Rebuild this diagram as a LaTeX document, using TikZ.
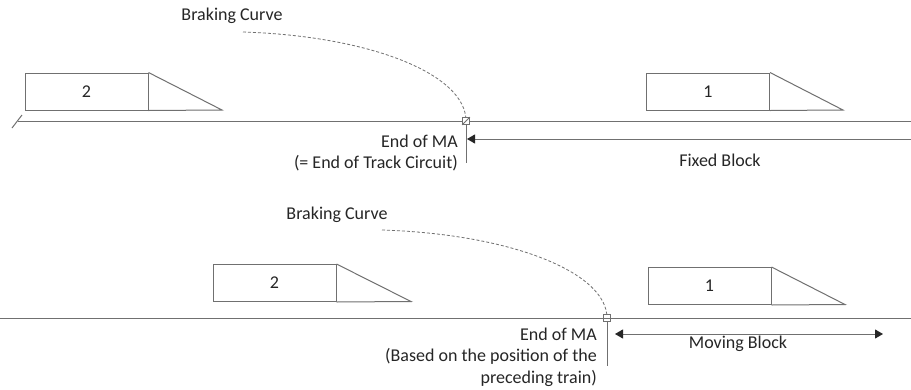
\documentclass[tikz,border=0pt]{standalone}
\usepackage{fontspec}
\setmainfont{Carlito}
\usetikzlibrary{arrows.meta}
\definecolor{ln}{HTML}{707070}
\definecolor{tx}{HTML}{262626}
\tikzset{
  line/.style={draw=ln, line width=1pt},
  trainbody/.style={draw=ln, line width=1pt, minimum width=123pt, minimum height=37pt, inner sep=0pt, text=tx, font=\fontsize{18}{21}\selectfont},
  lbl/.style={text=tx, font=\fontsize{18}{21}\selectfont, inner sep=0pt},
  brake/.style={draw=ln, line width=0.8pt, dash pattern=on 3pt off 2pt},
  marker/.style={draw=ln, line width=0.8pt, minimum size=7pt, inner sep=0pt, fill=white},
  tip/.style={-{Triangle[length=8pt,width=9pt,color=tx]}},
  dtip/.style={{Triangle[length=8pt,width=9pt,color=tx]}-{Triangle[length=8pt,width=9pt,color=tx]}},
}
\begin{document}
\begin{tikzpicture}[x=1pt,y=-1pt]
\useasboundingbox[fill=white] (0,0) rectangle (911,389);

% ---------- top: fixed block ----------
\coordinate (trackAstart) at (18,121);
\coordinate (trackAend) at (911,121);
\draw[line] (trackAstart) -- (trackAend);
\coordinate (tickA) at (12,128);
\coordinate (tickB) at (22,115);
\draw[line] (tickA) -- (tickB);

\node[trainbody] (t2a) at (86.5,91.5) {2};
\coordinate (t2anose) at (222,110);
\draw[line] (t2a.north east) -- (t2anose) -- (t2a.south east);

\node[trainbody] (t1a) at (708,91.5) {1};
\coordinate (t1anose) at (843,110);
\draw[line] (t1a.north east) -- (t1anose) -- (t1a.south east);

\coordinate (maA) at (466,121);
\coordinate (brakeAstart) at (243,32);
\draw[brake] (brakeAstart) .. controls (370,36) and (466,74) .. (maA);

\coordinate (maAbot) at (466,163);
\draw[line] (maA) -- (maAbot);
\node[marker] (mkA) at (maA) {};
\draw[ln, line width=0.8pt] (mkA.south west) -- (mkA.north east);

\coordinate (fbR) at (911,139);
\coordinate (fbL) at (467,139);
\draw[line, tip] (fbR) -- (fbL);

\node[lbl] (bcA) at (232,16) {Braking Curve};
\node[lbl, anchor=east] (emaA) at (458,141) {End of MA};
\node[lbl, anchor=east] (tcA) at (458,163) {(= End of Track Circuit)};
\node[lbl] (fb) at (720,160) {Fixed Block};

% ---------- bottom: moving block ----------
\coordinate (trackBstart) at (0,318);
\coordinate (trackBend) at (911,318);
\draw[line] (trackBstart) -- (trackBend);

\node[trainbody] (t2b) at (274.5,283) {2};
\coordinate (t2bnose) at (411,301.5);
\draw[line] (t2b.north east) -- (t2bnose) -- (t2b.south east);

\node[trainbody] (t1b) at (709.5,286) {1};
\coordinate (t1bnose) at (845,304.5);
\draw[line] (t1b.north east) -- (t1bnose) -- (t1b.south east);

\coordinate (maB) at (607,318);
\coordinate (brakeBstart) at (382,230);
\draw[brake] (brakeBstart) .. controls (510,234) and (607,272) .. (maB);

\coordinate (maBbot) at (607,366);
\draw[line] (maB) -- (maBbot);
\node[marker] (mkB) at (maB) {};
\draw[ln, line width=0.8pt] (mkB.west) -- (mkB.east);

\coordinate (mbL) at (615,334);
\coordinate (mbR) at (883,334);
\draw[line, dtip] (mbL) -- (mbR);

\node[lbl] (bcB) at (337,215) {Braking Curve};
\node[lbl, anchor=east] (emaB) at (597,334) {End of MA};
\node[lbl, anchor=east] (bpB) at (597,356) {(Based on the position of the};
\node[lbl, anchor=east] (ptB) at (597,378) {preceding train)};
\node[lbl] (mb) at (738,344) {Moving Block};
\end{tikzpicture}
\end{document}
